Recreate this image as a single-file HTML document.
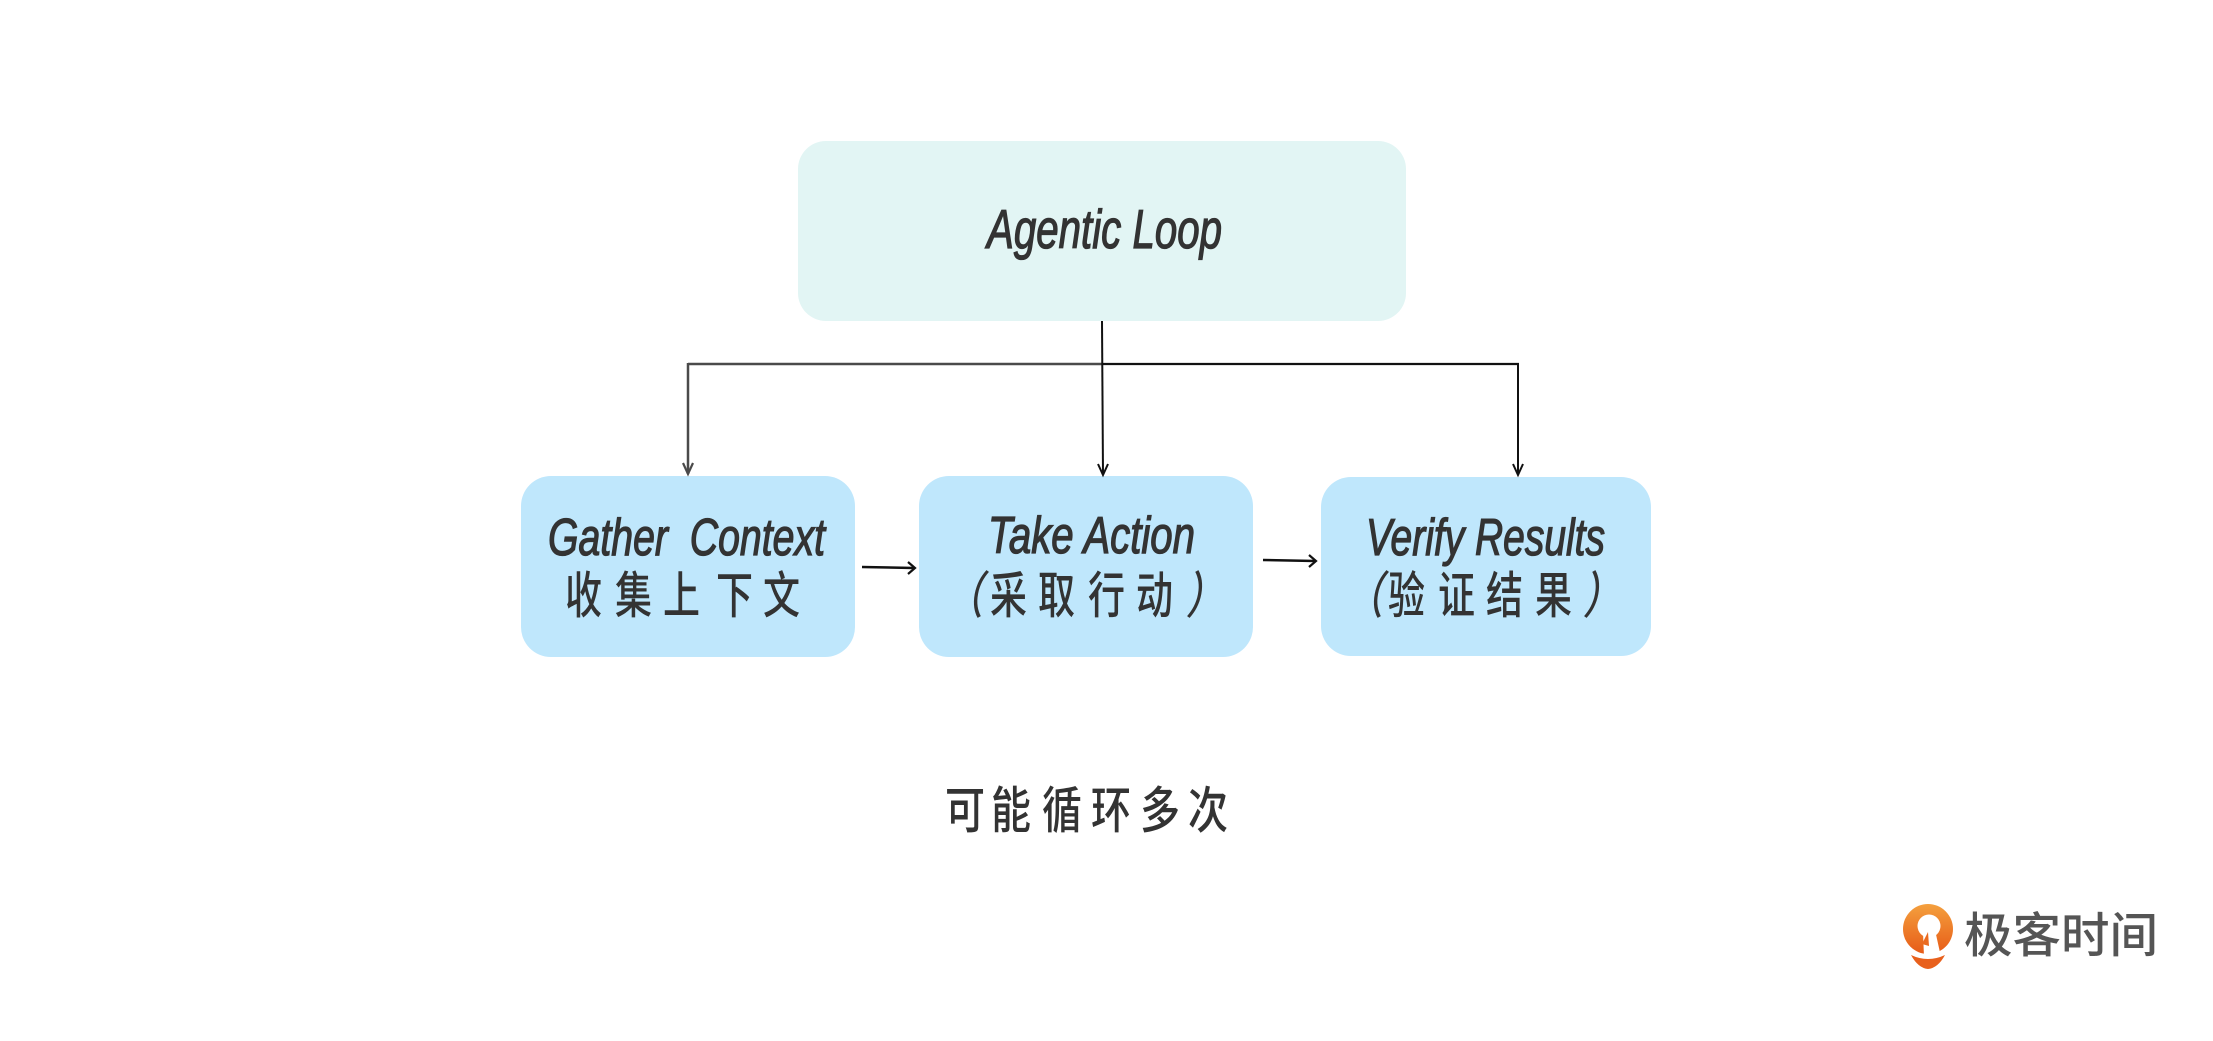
<!DOCTYPE html>
<html>
<head>
<meta charset="utf-8">
<style>
  html, body { margin: 0; padding: 0; background: #ffffff; }
  body { width: 2213px; height: 1041px; overflow: hidden; }
  svg { display: block; }
  .lat { font-family: "Liberation Sans", sans-serif; font-style: italic; font-weight: normal; fill: #333333; stroke: #333333; stroke-width: 1.3; }
  .cjk { font-family: "Noto Sans CJK SC", "WenQuanYi Zen Hei", sans-serif; font-weight: 500; fill: #333333; }
  .par { font-family: "Liberation Sans", "Noto Sans CJK SC", sans-serif; font-style: italic; font-weight: 500; fill: #333333; }
</style>
</head>
<body>
<svg width="2213" height="1041" viewBox="0 0 2213 1041" xmlns="http://www.w3.org/2000/svg">
  <rect x="0" y="0" width="2213" height="1041" fill="#ffffff"/>

  <!-- Main box -->
  <rect x="798" y="141" width="608" height="180" rx="28" ry="28" fill="#e2f5f4"/>
  <text class="lat" x="987" y="248" font-size="55" textLength="235" lengthAdjust="spacingAndGlyphs">Agentic Loop</text>

  <!-- Child boxes -->
  <rect x="521" y="476" width="334" height="181" rx="30" ry="30" fill="#bfe7fc"/>
  <rect x="919" y="476" width="334" height="181" rx="30" ry="30" fill="#bfe7fc"/>
  <rect x="1321" y="477" width="330" height="179" rx="30" ry="30" fill="#bfe7fc"/>

  <!-- Connectors -->
  <line x1="688" y1="364" x2="1102" y2="364" stroke="#4a4a4a" stroke-width="2.5"/>
  <line x1="688" y1="363" x2="688" y2="474" stroke="#4a4a4a" stroke-width="2.5"/>
  <polyline points="683,463 688,474 693,463" fill="none" stroke="#4a4a4a" stroke-width="2.2"/>

  <line x1="1102" y1="364" x2="1519" y2="364" stroke="#111111" stroke-width="2.2"/>
  <line x1="1518" y1="363" x2="1518" y2="475" stroke="#111111" stroke-width="2"/>
  <polyline points="1513,464 1518,475 1523,464" fill="none" stroke="#111111" stroke-width="2"/>

  <line x1="1102" y1="321" x2="1103" y2="475" stroke="#111111" stroke-width="2"/>
  <polyline points="1098,464 1103,475 1108,464" fill="none" stroke="#111111" stroke-width="2"/>

  <line x1="862" y1="567" x2="914" y2="568" stroke="#111111" stroke-width="2.5"/>
  <polyline points="908,562 915,568 908,574" fill="none" stroke="#111111" stroke-width="2.2"/>

  <line x1="1263" y1="560" x2="1315" y2="561" stroke="#111111" stroke-width="2.5"/>
  <polyline points="1309,555 1316,561 1309,567" fill="none" stroke="#111111" stroke-width="2.2"/>

  <!-- Gather Context -->
  <text class="lat" x="548" y="555" font-size="52" textLength="277" lengthAdjust="spacingAndGlyphs">Gather&#160; Context</text>
  <text class="cjk" x="565" y="613" font-size="50" textLength="37" lengthAdjust="spacingAndGlyphs">收</text>
  <text class="cjk" x="615" y="613" font-size="50" textLength="37" lengthAdjust="spacingAndGlyphs">集</text>
  <text class="cjk" x="663" y="613" font-size="50" textLength="37" lengthAdjust="spacingAndGlyphs">上</text>
  <text class="cjk" x="716" y="613" font-size="50" textLength="37" lengthAdjust="spacingAndGlyphs">下</text>
  <text class="cjk" x="763" y="613" font-size="50" textLength="37" lengthAdjust="spacingAndGlyphs">文</text>

  <!-- Take Action -->
  <text class="lat" x="988" y="553" font-size="52" textLength="207" lengthAdjust="spacingAndGlyphs">Take Action</text>
  <text class="par" x="946" y="613" font-size="50" textLength="37" lengthAdjust="spacingAndGlyphs">（</text>
  <text class="cjk" x="990" y="613" font-size="50" textLength="37" lengthAdjust="spacingAndGlyphs">采</text>
  <text class="cjk" x="1038" y="613" font-size="50" textLength="37" lengthAdjust="spacingAndGlyphs">取</text>
  <text class="cjk" x="1088" y="613" font-size="50" textLength="37" lengthAdjust="spacingAndGlyphs">行</text>
  <text class="cjk" x="1136" y="613" font-size="50" textLength="37" lengthAdjust="spacingAndGlyphs">动</text>
  <text class="par" x="1186" y="613" font-size="50" textLength="37" lengthAdjust="spacingAndGlyphs">）</text>

  <!-- Verify Results -->
  <text class="lat" x="1366" y="555" font-size="52" textLength="239" lengthAdjust="spacingAndGlyphs">Verify Results</text>
  <text class="par" x="1346" y="613" font-size="50" textLength="37" lengthAdjust="spacingAndGlyphs">（</text>
  <text class="cjk" x="1388" y="613" font-size="50" textLength="37" lengthAdjust="spacingAndGlyphs">验</text>
  <text class="cjk" x="1438" y="613" font-size="50" textLength="37" lengthAdjust="spacingAndGlyphs">证</text>
  <text class="cjk" x="1486" y="613" font-size="50" textLength="37" lengthAdjust="spacingAndGlyphs">结</text>
  <text class="cjk" x="1535" y="613" font-size="50" textLength="37" lengthAdjust="spacingAndGlyphs">果</text>
  <text class="par" x="1583" y="613" font-size="50" textLength="37" lengthAdjust="spacingAndGlyphs">）</text>

  <!-- Bottom caption -->
  <text class="cjk" x="945" y="828" font-size="50" textLength="40" lengthAdjust="spacingAndGlyphs">可</text>
  <text class="cjk" x="991" y="828" font-size="50" textLength="40" lengthAdjust="spacingAndGlyphs">能</text>
  <text class="cjk" x="1042" y="828" font-size="50" textLength="40" lengthAdjust="spacingAndGlyphs">循</text>
  <text class="cjk" x="1091" y="828" font-size="50" textLength="40" lengthAdjust="spacingAndGlyphs">环</text>
  <text class="cjk" x="1140" y="828" font-size="50" textLength="40" lengthAdjust="spacingAndGlyphs">多</text>
  <text class="cjk" x="1188" y="828" font-size="50" textLength="40" lengthAdjust="spacingAndGlyphs">次</text>

  <!-- Logo -->
  <defs>
    <linearGradient id="og" x1="0" y1="0" x2="0" y2="1">
      <stop offset="0" stop-color="#f4a03e"/>
      <stop offset="1" stop-color="#e75b17"/>
    </linearGradient>
  </defs>
  <circle cx="1928" cy="929" r="25" fill="url(#og)"/>
  <circle cx="1929" cy="926" r="11.5" fill="#ffffff"/>
  <polygon points="1923,932 1935,930 1941,957 1924,957" fill="#ffffff"/>
  <polygon points="1922,944 1928,932 1929,946" fill="#ea6a20"/>
  <path d="M1911,955 Q1928,963 1945,955 Q1938,968 1928,969 Q1918,968 1911,955 Z" fill="#e8601c"/>
  <text x="1964" y="952" font-family="'Noto Sans CJK SC','WenQuanYi Zen Hei',sans-serif" font-weight="500" font-size="48" fill="#555555" textLength="194" lengthAdjust="spacingAndGlyphs">极客时间</text>
</svg>
</body>
</html>
